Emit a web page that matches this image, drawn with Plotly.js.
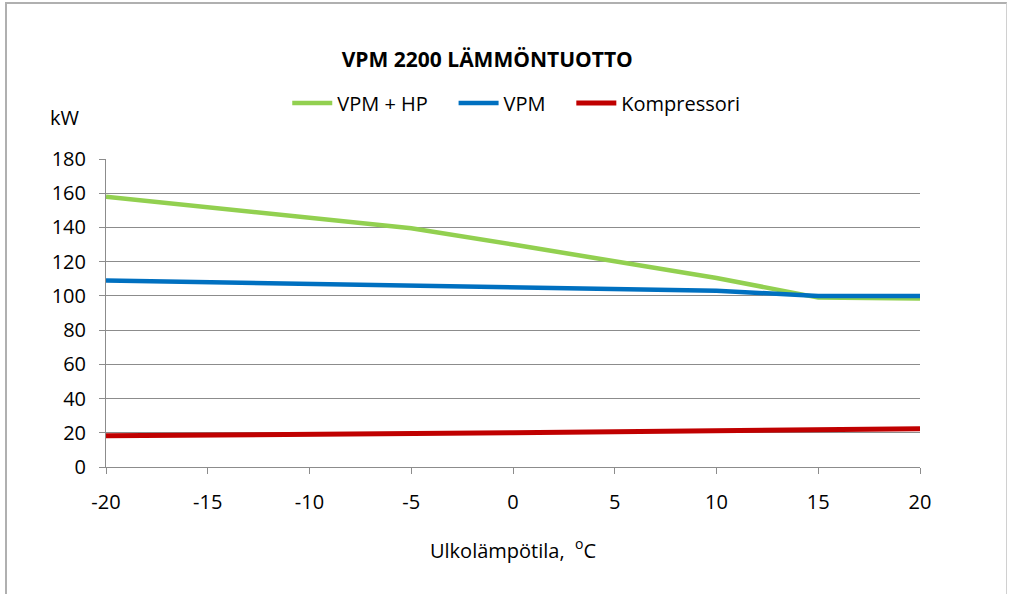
<!DOCTYPE html>
<html>
<head>
<meta charset="utf-8">
<script src="https://cdn.plot.ly/plotly-3.0.1.min.js"></script>
<style>
html,body{margin:0;padding:0;background:#fff;}
#wrap{position:absolute;left:5px;top:2px;width:1002px;height:600px;border-left:2px solid #b0b0b0;border-top:2px solid #b0b0b0;border-right:1px solid #d0d0d0;box-sizing:border-box;}
#chart{position:absolute;left:0;top:0;width:1013px;height:594px;}
</style>
</head>
<body>
<div id="wrap"></div>
<div id="chart"></div>
<script>
const temps = [-20, -15, -10, -5, 0, 5, 10, 15, 20];
const vpmHp = [158, 152, 146, 139.5, 130, 120, 110.5, 99, 98.5];
const vpm = [109, 108, 107, 106, 105, 103.8, 103, 100, 100];
const kompressori = [18.2, 18.5, 19, 19.8, 20, 20.6, 21.3, 21.5, 22.3];
const seriesNames = ['VPM + HP', 'VPM', 'Kompressori'];
const yTicks = [0, 20, 40, 60, 80, 100, 120, 140, 160, 180];
const xTicks = [-20, -15, -10, -5, 0, 5, 10, 15, 20];

const font = 'Open Sans, Liberation Sans, Arial, sans-serif';
const pad = '\u00a0\u00a0\u00a0\u00a0';
const traces = [
  {x: temps, y: vpmHp, name: seriesNames[0] + pad, mode: 'lines', line: {color: '#92D050', width: 4.5}},
  {x: temps, y: vpm, name: seriesNames[1] + pad, mode: 'lines', line: {color: '#0070C0', width: 4.5}},
  {x: temps, y: kompressori, name: seriesNames[2], mode: 'lines', line: {color: '#C00000', width: 5}}
];
const layout = {
  width: 1013, height: 594,
  paper_bgcolor: 'rgba(0,0,0,0)', plot_bgcolor: 'rgba(0,0,0,0)',
  margin: {l: 106, r: 93, t: 159, b: 127},
  font: {family: font, size: 20, color: '#000'},
  title: {text: '<b>VPM 2200 LÄMMÖNTUOTTO</b>', font: {family: font, size: 21, color: '#000'},
          xref: 'container', x: 0.481, xanchor: 'center', yref: 'container', y: 1 - 60/594, yanchor: 'middle'},
  showlegend: true,
  legend: {orientation: 'h', x: 0.504, xanchor: 'center', y: 1 + 56/308, yanchor: 'middle',
           font: {family: font, size: 20}, itemwidth: 40, tracegroupgap: 0, bgcolor: 'rgba(0,0,0,0)'},
  xaxis: {range: [-20, 20], tickvals: xTicks, ticktext: xTicks.map(String),
          showgrid: false, zeroline: false, showline: true, linecolor: '#8c8c8c', linewidth: 1,
          ticks: 'outside', ticklen: 6, tickcolor: '#8c8c8c', ticklabelstandoff: 11,
          tickfont: {family: font, size: 20},
          title: {text: 'Ulkolämpötila,  <sup>o</sup>C', font: {family: font, size: 20}, standoff: 29}},
  yaxis: {range: [0, 180], tickvals: yTicks, ticktext: yTicks.map(String),
          showgrid: true, gridcolor: '#8c8c8c', gridwidth: 1, zeroline: false,
          showline: true, linecolor: '#8c8c8c', linewidth: 1,
          ticks: 'outside', ticklen: 6, tickcolor: '#8c8c8c', ticklabelstandoff: 9,
          tickfont: {family: font, size: 20}},
  annotations: [{text: 'kW', xref: 'paper', yref: 'paper', x: -41/814, y: 1 + 42/308,
                 xanchor: 'center', yanchor: 'middle', showarrow: false, font: {family: font, size: 20}}]
};
Plotly.newPlot('chart', traces, layout, {displayModeBar: false, staticPlot: true});
</script>
</body>
</html>
